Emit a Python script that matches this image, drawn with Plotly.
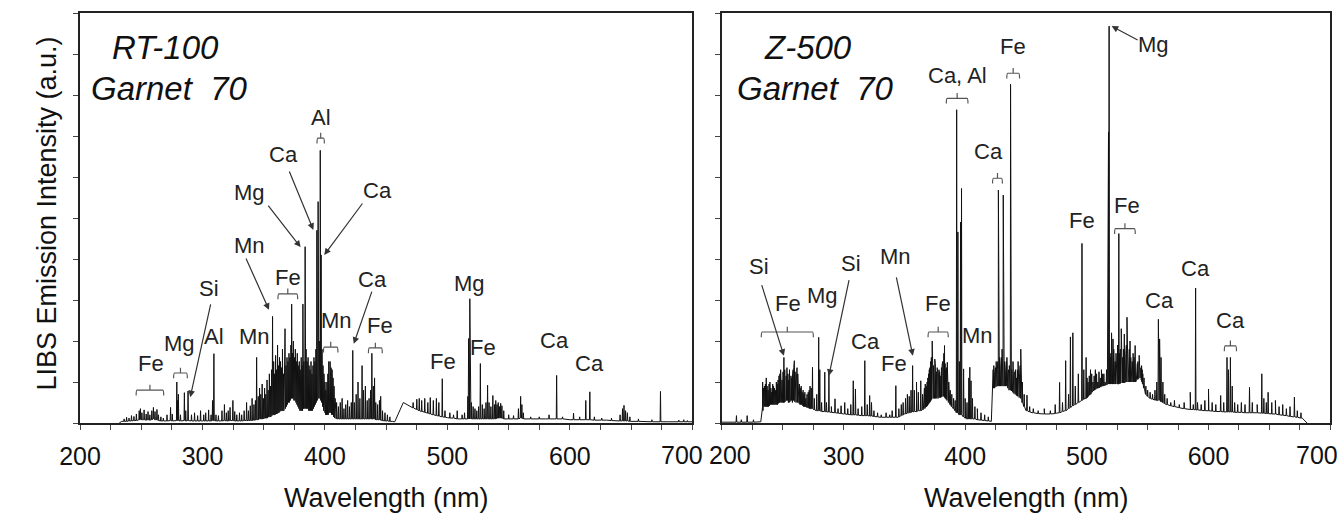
import plotly.graph_objects as go

# ---------------- data ----------------
wavelength_ticks = list(range(200, 701, 25))
wavelength_labels = [str(v) if v % 100 == 0 else "" for v in wavelength_ticks]
intensity_ticks = list(range(0, 11))

# RT-100 spectrum: baseline knots (wavelength nm, intensity a.u.)
rt_baseline = [(232, 0.0), (234, 0.04), (300, 0.05), (340, 0.06), (350, 0.1), (360, 0.22),
               (370, 0.5), (380, 0.3), (390, 0.35), (396, 0.6), (400, 0.25), (410, 0.1),
               (430, 0.1), (447, 0.06), (455, 0.04), (457, 0.03), (464, 0.5), (470, 0.4),
               (480, 0.28), (490, 0.19), (500, 0.13), (510, 0.1), (550, 0.1), (580, 0.1),
               (600, 0.08), (630, 0.07), (650, 0.04), (680, 0.03), (700, 0.03), (705, 0.03)]
# RT-100 emission lines: (wavelength, foot, top)
rt_lines = [
    (236, 0.04, 0.1), (238, 0.04, 0.14), (240, 0.05, 0.12), (242, 0.05, 0.18), (244, 0.06, 0.16),
    (246, 0.06, 0.22), (248.3, 0.08, 0.3), (249.3, 0.08, 0.35), (250.5, 0.08, 0.25), (252.3, 0.08, 0.32),
    (254, 0.07, 0.22), (255.5, 0.08, 0.28), (257, 0.07, 0.2), (258.6, 0.08, 0.3), (259.9, 0.1, 0.38),
    (261.2, 0.08, 0.28), (262.8, 0.08, 0.33), (264, 0.06, 0.2), (266, 0.05, 0.15), (268, 0.05, 0.12),
    (271, 0.05, 0.2), (273.9, 0.06, 0.38), (275.3, 0.05, 0.22),
    (279.0, 0.06, 1.0), (279.6, 0.06, 0.55), (280.3, 0.06, 0.7), (282, 0.05, 0.2), (285.2, 0.06, 0.74),
    (286.3, 0.05, 0.3), (288.2, 0.06, 0.78),
    (291, 0.05, 0.2), (293.5, 0.05, 0.25), (296, 0.05, 0.18), (298.4, 0.05, 0.3), (301, 0.05, 0.2),
    (302.6, 0.05, 0.25), (305, 0.05, 0.32), (307, 0.05, 0.2), (308.2, 0.06, 0.55), (309.3, 0.06, 1.69),
    (311, 0.05, 0.2), (313, 0.05, 0.18), (315.9, 0.05, 0.3), (317.9, 0.06, 0.45), (319.5, 0.05, 0.25),
    (321, 0.05, 0.3), (322.5, 0.06, 0.38), (324.8, 0.06, 0.55), (326.3, 0.05, 0.28), (328, 0.05, 0.2),
    (330.2, 0.05, 0.25), (332, 0.05, 0.2), (334, 0.06, 0.3), (336, 0.06, 0.5), (337.5, 0.06, 0.3),
    (339, 0.06, 0.42), (340.5, 0.06, 0.6), (342, 0.07, 0.45), (343.2, 0.07, 0.55), (344.2, 0.08, 1.6),
    (345.5, 0.08, 0.65), (346.6, 0.1, 0.85), (347.6, 0.1, 0.7), (348.7, 0.1, 0.95), (349.7, 0.1, 0.6),
    (350.7, 0.12, 0.85), (351.7, 0.12, 0.7), (352.7, 0.12, 1.05), (353.6, 0.15, 0.8), (354.6, 0.15, 1.2),
    (355.5, 0.15, 0.9), (356.4, 0.18, 1.3), (357.2, 0.2, 2.6), (358.1, 0.2, 1.5), (358.9, 0.2, 1.2),
    (359.7, 0.25, 1.65), (360.5, 0.22, 1.3), (361.3, 0.25, 1.9), (362.1, 0.25, 1.4), (362.9, 0.28, 1.6),
    (363.7, 0.3, 1.5), (364.5, 0.3, 1.35), (365.3, 0.3, 1.8), (366.1, 0.3, 1.2), (366.9, 0.35, 1.55),
    (367.4, 0.35, 2.3), (368.2, 0.4, 1.4), (369, 0.45, 1.6), (369.8, 0.5, 1.5), (370.6, 0.5, 1.7),
    (371.4, 0.55, 1.6), (372.2, 0.6, 1.9), (372.8, 0.6, 2.9), (373.5, 0.6, 1.7), (374.2, 0.6, 2.0),
    (375, 0.55, 1.6), (375.8, 0.55, 1.8), (376.6, 0.5, 1.5), (377.4, 0.45, 1.7), (378.2, 0.4, 1.4),
    (379, 0.35, 1.5), (379.8, 0.3, 1.3), (380.6, 0.3, 1.6), (381.4, 0.3, 1.4), (382.0, 0.35, 2.9),
    (382.8, 0.35, 1.5), (383.8, 0.4, 4.3), (384.6, 0.35, 1.8), (385.4, 0.35, 1.5), (386.2, 0.35, 1.6),
    (387, 0.3, 1.4), (387.8, 0.3, 1.3), (388.6, 0.3, 1.5), (389.4, 0.3, 1.2), (390.2, 0.35, 1.4),
    (391, 0.4, 1.6), (391.8, 0.45, 1.5), (392.6, 0.5, 1.8), (393.4, 0.55, 4.7), (394.4, 0.6, 5.4),
    (395.3, 0.6, 2.0), (396.15, 0.6, 6.65), (396.85, 0.55, 4.1), (397.6, 0.5, 1.8), (398.4, 0.4, 1.4),
    (399.2, 0.3, 1.2), (400, 0.25, 1.0), (400.8, 0.2, 0.8), (401.6, 0.2, 1.0), (402.4, 0.2, 1.2),
    (403.1, 0.25, 1.5), (403.6, 0.25, 1.45), (404.2, 0.25, 1.5), (405, 0.25, 1.35), (405.8, 0.2, 1.3),
    (406.6, 0.2, 1.1), (407.4, 0.15, 0.9), (408.3, 0.12, 0.6), (409.5, 0.1, 0.5), (411, 0.1, 0.4),
    (412.5, 0.1, 0.5), (414, 0.1, 0.6), (415.5, 0.1, 0.35), (417, 0.1, 0.45), (418.5, 0.1, 0.55),
    (420, 0.1, 0.4), (421.5, 0.1, 0.5), (422.7, 0.1, 1.77), (424, 0.1, 0.5), (425.5, 0.1, 0.7),
    (427, 0.1, 1.0), (428.5, 0.1, 0.6), (430.3, 0.1, 1.4), (431.5, 0.1, 0.8), (433, 0.1, 0.9),
    (434.5, 0.1, 0.55), (436, 0.1, 0.6), (437.3, 0.1, 0.8), (438.3, 0.1, 1.7), (439.5, 0.1, 0.9),
    (440.5, 0.1, 1.1), (441.5, 0.08, 0.5), (443, 0.08, 0.45), (444.5, 0.08, 0.55), (445.5, 0.07, 0.65),
    (447, 0.06, 0.3), (449, 0.05, 0.25), (451, 0.05, 0.2), (453, 0.04, 0.15),
    (472, 0.37, 0.5), (475, 0.33, 0.58), (477, 0.3, 0.6), (479, 0.28, 0.55), (481.5, 0.26, 0.6),
    (484, 0.24, 0.5), (486, 0.22, 0.62), (488.5, 0.2, 0.55), (491, 0.18, 0.6), (493, 0.17, 0.5),
    (495.8, 0.15, 1.08), (498, 0.14, 0.3), (502, 0.12, 0.25), (505, 0.12, 0.2), (508, 0.1, 0.3),
    (512, 0.1, 0.2), (514, 0.1, 0.25), (516.7, 0.1, 0.65), (517.3, 0.1, 2.06), (518.3, 0.1, 3.03),
    (519.5, 0.1, 0.5), (521, 0.1, 0.4), (522.5, 0.1, 0.35), (524, 0.1, 0.3), (525.5, 0.1, 0.4),
    (526.9, 0.1, 1.45), (528.5, 0.1, 0.45), (530, 0.1, 0.35), (531.5, 0.1, 0.5), (532.8, 0.1, 0.92),
    (534, 0.1, 0.5), (535.5, 0.1, 0.4), (537.1, 0.1, 0.67), (538.5, 0.1, 0.45), (539.5, 0.1, 0.55),
    (540.5, 0.12, 0.45), (541.5, 0.12, 0.5), (542.5, 0.12, 0.4), (543.5, 0.12, 0.48), (544.5, 0.12, 0.42),
    (546, 0.1, 0.3), (550, 0.1, 0.2), (554, 0.1, 0.18), (558, 0.1, 0.35), (559.8, 0.12, 0.65),
    (560.8, 0.12, 0.45), (562, 0.1, 0.25), (568, 0.1, 0.15), (575, 0.1, 0.15), (583, 0.1, 0.2),
    (589.2, 0.1, 1.16), (594, 0.1, 0.15), (603, 0.08, 0.24), (608, 0.08, 0.15), (613, 0.08, 0.55),
    (616.3, 0.08, 0.76), (620, 0.07, 0.15), (626, 0.07, 0.12), (634, 0.06, 0.12), (641, 0.05, 0.2),
    (643, 0.05, 0.35), (644.2, 0.05, 0.43), (645.5, 0.05, 0.3), (647, 0.05, 0.25), (649, 0.04, 0.15),
    (656, 0.04, 0.1), (667, 0.03, 0.08), (674, 0.03, 0.77), (689, 0.03, 0.07), (693, 0.03, 0.08),
    (696, 0.03, 0.06),
]

# Z-500 spectrum
z_baseline = [(196, 0.02), (200, 0.02), (232, 0.03), (233.5, 0.4), (240, 0.45), (250, 0.5), (258, 0.5),
              (265, 0.45), (272, 0.38), (280, 0.3), (290, 0.26), (300, 0.22), (316, 0.18), (330, 0.14),
              (345, 0.14), (350, 0.22), (360, 0.28), (368, 0.4), (375, 0.6), (382, 0.65), (388, 0.45),
              (392, 0.3), (400, 0.12), (410, 0.08), (421.5, 0.04), (422.5, 0.9), (427, 0.9), (435, 0.9),
              (440, 0.75), (445, 0.6), (450, 0.3), (455, 0.25), (465, 0.22), (475, 0.24), (482, 0.3),
              (490, 0.45), (498, 0.6), (505, 0.8), (512, 0.9), (520, 0.95), (530, 1.0), (538, 1.0),
              (545, 1.1), (550, 0.7), (558, 0.55), (565, 0.45), (575, 0.38), (585, 0.33), (600, 0.3),
              (620, 0.27), (640, 0.25), (655, 0.22), (670, 0.15), (677, 0.12), (680, 0.03), (681, 0.0)]
z_lines = [
    (212, 0.02, 0.18), (216, 0.02, 0.08), (220.8, 0.02, 0.18), (226, 0.02, 0.08),
    (233.5, 0.3, 1.0), (235, 0.4, 0.9), (236.5, 0.4, 1.1), (238, 0.4, 0.8), (239.5, 0.45, 1.0),
    (241, 0.45, 0.75), (242.5, 0.45, 0.9), (244, 0.45, 0.8), (245.5, 0.45, 0.95), (247, 0.5, 1.15),
    (248.3, 0.5, 1.3), (249.5, 0.5, 1.05), (251, 0.5, 1.6), (252.3, 0.55, 1.2), (253.5, 0.55, 1.35),
    (255, 0.5, 1.05), (256.2, 0.55, 1.25), (257.5, 0.55, 1.1), (258.6, 0.55, 1.3), (259.6, 0.55, 1.52),
    (260.7, 0.5, 1.15), (261.8, 0.5, 1.35), (263, 0.5, 1.0), (264.5, 0.45, 0.85), (266, 0.45, 0.75),
    (267.5, 0.4, 0.7), (269, 0.4, 0.6), (271, 0.38, 0.75), (272.5, 0.35, 0.9), (274.5, 0.35, 1.36),
    (276, 0.32, 0.6), (278, 0.3, 0.7), (279.6, 0.3, 2.09), (280.5, 0.3, 1.3), (282, 0.28, 0.5),
    (284.6, 0.28, 1.24), (286, 0.27, 0.5), (288, 0.27, 1.28), (290, 0.26, 0.4), (293, 0.25, 0.59),
    (295.5, 0.24, 0.35), (298, 0.23, 0.42), (301, 0.22, 0.5), (303.5, 0.21, 0.35), (306, 0.2, 0.45),
    (308, 0.2, 1.03), (309.8, 0.2, 0.83), (312, 0.19, 0.35), (315, 0.18, 0.4), (317.5, 0.18, 1.52),
    (319.5, 0.18, 0.45), (321.5, 0.17, 0.67), (323, 0.17, 0.5), (325, 0.16, 0.3), (328, 0.15, 0.25),
    (331, 0.14, 0.2), (335, 0.14, 0.25), (338, 0.14, 0.2), (340, 0.14, 0.3), (343, 0.14, 0.91),
    (345.5, 0.15, 0.35), (347.5, 0.18, 0.45), (349, 0.2, 0.5), (351, 0.22, 0.6), (352.5, 0.24, 0.7),
    (354, 0.25, 0.65), (355.5, 0.26, 0.8), (356.8, 0.27, 1.4), (358.2, 0.28, 0.8), (360, 0.28, 1.0),
    (361.5, 0.3, 0.75), (363.5, 0.3, 1.03), (365, 0.32, 0.7), (366.5, 0.35, 0.85), (368, 0.4, 0.9),
    (369.3, 0.45, 1.1), (370.5, 0.5, 1.3), (371.6, 0.55, 1.5), (372.9, 0.6, 2.0), (374, 0.6, 1.4),
    (375, 0.6, 1.56), (376, 0.6, 1.2), (377, 0.6, 1.35), (378, 0.62, 1.1), (379, 0.62, 1.25),
    (380, 0.63, 1.15), (381, 0.65, 1.4), (382, 0.65, 1.6), (383, 0.65, 1.89), (384, 0.6, 1.3),
    (385.3, 0.55, 1.48), (386.5, 0.5, 1.0), (387.7, 0.45, 0.8), (389, 0.4, 0.7), (390.5, 0.35, 0.6),
    (391.8, 0.3, 0.55),
    (393.0, 0.25, 7.64), (394.0, 0.25, 4.66), (395.2, 0.2, 1.5), (396.2, 0.2, 4.9), (397.0, 0.2, 5.72),
    (398.7, 0.15, 1.32), (400, 0.12, 0.6), (401.5, 0.1, 0.5), (403.0, 0.1, 1.1), (403.8, 0.1, 1.36),
    (404.8, 0.1, 1.03), (406, 0.1, 0.6), (408, 0.1, 0.4), (410, 0.08, 0.35), (413, 0.07, 0.25),
    (416, 0.06, 0.2), (419, 0.05, 0.15),
    (423.5, 0.85, 1.4), (424.5, 0.85, 1.2), (425.5, 0.9, 1.5), (426.4, 0.9, 1.3), (427.3, 0.9, 5.68),
    (428.3, 0.9, 1.6), (429.3, 0.9, 1.4), (430.3, 0.9, 1.8), (431.3, 0.9, 5.56), (432.3, 0.9, 1.5),
    (433.3, 0.9, 1.3), (434.3, 0.9, 1.6), (435.3, 0.85, 1.2), (436.3, 0.8, 1.4), (437.3, 0.8, 8.26),
    (438.3, 0.78, 1.3), (439.3, 0.75, 1.5), (440.3, 0.72, 1.2), (441.3, 0.7, 1.3), (442.3, 0.68, 1.1),
    (443.5, 0.65, 1.5), (444.7, 0.62, 1.2), (445.7, 0.6, 1.8), (447, 0.5, 1.0), (448.5, 0.4, 0.7),
    (450.8, 0.3, 0.68), (453, 0.27, 0.4), (456, 0.25, 0.35), (460, 0.23, 0.3), (465, 0.22, 0.35),
    (470, 0.22, 0.3), (474, 0.23, 0.45), (477.6, 0.25, 0.99), (480, 0.28, 0.5), (482.6, 0.3, 1.52),
    (485, 0.35, 0.7), (486.5, 0.38, 2.1), (488.5, 0.42, 2.2), (490.5, 0.45, 0.9), (493, 0.5, 1.2),
    (496, 0.55, 4.38), (497.5, 0.58, 1.3), (499.4, 0.6, 1.6), (501, 0.65, 1.0), (503, 0.7, 1.3),
    (505, 0.78, 1.0), (507, 0.82, 1.3), (509, 0.85, 1.0), (511, 0.88, 1.1), (513, 0.9, 1.2),
    (515, 0.92, 1.0), (516.2, 0.93, 1.3), (517.2, 0.95, 5.0), (517.8, 0.95, 7.1), (518.3, 0.95, 9.68),
    (519.2, 0.95, 1.6), (520.3, 0.95, 2.2), (521.5, 0.95, 2.05), (522.7, 0.95, 1.5), (524, 0.95, 1.7),
    (525.3, 0.95, 1.9), (526.3, 0.95, 4.62), (527.5, 0.97, 1.8), (528.3, 0.98, 2.3), (529.5, 0.98, 1.6),
    (530.8, 0.98, 2.17), (532, 1.0, 1.7), (533, 1.0, 2.58), (534.3, 1.0, 1.6), (535.5, 1.0, 2.0),
    (536.7, 1.0, 1.5), (538, 1.0, 1.7), (539.7, 1.0, 1.89), (541, 1.05, 1.4), (542, 1.08, 1.5),
    (543, 1.1, 1.65), (544, 1.1, 1.3), (545, 1.05, 1.4), (546, 0.95, 1.2), (547, 0.85, 1.1),
    (548.5, 0.7, 0.9), (550, 0.65, 0.8), (552, 0.6, 0.75), (554, 0.58, 0.7), (556, 0.56, 0.8),
    (557.5, 0.55, 1.0), (558.8, 0.55, 2.53), (559.8, 0.55, 2.05), (561, 0.52, 1.6), (562.5, 0.5, 1.0),
    (564, 0.47, 0.7), (566, 0.45, 0.6), (569, 0.42, 0.5), (572, 0.4, 0.55), (576, 0.37, 0.45),
    (580, 0.35, 0.5), (585, 0.33, 0.75), (587.5, 0.33, 0.45), (589.4, 0.32, 3.29), (591, 0.32, 0.5),
    (594, 0.31, 0.45), (597, 0.3, 0.55), (600, 0.3, 0.83), (603, 0.29, 0.5), (606, 0.28, 0.45),
    (610, 0.28, 0.67), (612.5, 0.27, 0.5), (615.2, 0.27, 1.6), (616.4, 0.27, 1.3), (618, 0.27, 1.6),
    (619.5, 0.27, 0.9), (621.5, 0.26, 0.5), (624, 0.26, 0.45), (627, 0.26, 0.5), (630, 0.25, 0.45),
    (633.7, 0.25, 0.87), (636, 0.25, 0.5), (640, 0.25, 0.45), (643.8, 0.24, 1.2), (645.5, 0.24, 0.6),
    (647.5, 0.23, 0.5), (649, 0.23, 0.75), (652, 0.22, 0.5), (655, 0.22, 0.55), (658, 0.2, 0.4),
    (661, 0.19, 0.45), (664, 0.18, 0.35), (667, 0.16, 0.4), (670.6, 0.15, 0.63), (673, 0.14, 0.3),
    (676, 0.12, 0.25),
]
# extra weak lines filling the dense clusters of Z-500
z_lines_dense = [
    (234.2, 0.4, 0.85), (235.8, 0.4, 0.95), (237.2, 0.4, 0.9), (238.8, 0.42, 0.95), (240.3, 0.45, 0.85),
    (241.8, 0.45, 0.95), (243.2, 0.45, 0.85), (244.8, 0.45, 1.0), (246.2, 0.48, 1.05), (247.7, 0.5, 1.2),
    (248.9, 0.5, 1.1), (250.3, 0.5, 1.25), (251.7, 0.52, 1.3), (252.9, 0.55, 1.15), (254.3, 0.55, 1.2),
    (255.6, 0.52, 1.3), (256.8, 0.55, 1.15), (258.1, 0.55, 1.2), (259.1, 0.55, 1.35), (260.2, 0.52, 1.25),
    (261.3, 0.5, 1.1), (262.4, 0.5, 1.2), (263.7, 0.48, 0.95), (265.2, 0.45, 0.9), (266.8, 0.42, 0.8),
    (268.2, 0.4, 0.75), (270, 0.38, 0.7), (271.8, 0.36, 0.8), (273.5, 0.35, 0.85),
    (366, 0.35, 0.8), (367.2, 0.38, 0.95), (368.7, 0.42, 1.0), (370, 0.48, 1.2), (371, 0.52, 1.35),
    (372.2, 0.58, 1.6), (373.5, 0.6, 1.5), (374.5, 0.6, 1.3), (375.5, 0.6, 1.45), (376.5, 0.6, 1.25),
    (377.5, 0.6, 1.2), (378.5, 0.62, 1.3), (379.5, 0.62, 1.2), (380.5, 0.64, 1.35), (381.5, 0.65, 1.5),
    (382.5, 0.65, 1.7), (383.5, 0.62, 1.45), (384.6, 0.58, 1.35), (385.9, 0.52, 1.2), (387.1, 0.48, 0.9),
    (423, 0.85, 1.3), (424, 0.85, 1.25), (425, 0.88, 1.35), (426, 0.9, 1.45), (426.9, 0.9, 1.5),
    (427.8, 0.9, 1.4), (428.8, 0.9, 1.5), (429.8, 0.9, 1.6), (430.8, 0.9, 1.5), (431.8, 0.9, 1.45),
    (432.8, 0.9, 1.4), (433.8, 0.9, 1.5), (434.8, 0.88, 1.35), (435.8, 0.82, 1.3), (436.8, 0.8, 1.35),
    (437.8, 0.8, 1.4), (438.8, 0.76, 1.3), (439.8, 0.74, 1.35), (440.8, 0.7, 1.25), (441.8, 0.69, 1.2),
    (442.9, 0.66, 1.3), (444.1, 0.63, 1.3), (445.2, 0.6, 1.4), (446.3, 0.55, 1.1),
    (500.2, 0.62, 1.1), (502, 0.68, 1.15), (504, 0.75, 1.2), (506, 0.8, 1.15), (508, 0.84, 1.2),
    (510, 0.86, 1.25), (512, 0.89, 1.3), (514, 0.91, 1.2), (518.8, 0.95, 1.5), (519.8, 0.95, 1.7),
    (521, 0.95, 1.6), (522.1, 0.95, 1.8), (523.3, 0.95, 1.5), (524.6, 0.95, 1.6), (526.9, 0.96, 1.7),
    (528.9, 0.98, 1.7), (530.1, 0.98, 1.8), (531.4, 0.99, 1.6), (532.5, 1.0, 1.9), (533.6, 1.0, 1.7),
    (534.9, 1.0, 1.8), (536.1, 1.0, 1.6), (537.3, 1.0, 1.5), (538.8, 1.0, 1.6), (540.3, 1.02, 1.5),
    (541.5, 1.06, 1.45), (542.5, 1.09, 1.5), (543.5, 1.1, 1.4), (544.5, 1.08, 1.35), (545.5, 1.0, 1.3),
]

# element labels: (text, wavelength, intensity)
rt_labels = [("Al", 397, 7.44), ("Ca", 366.4, 6.54), ("Mg", 338.3, 5.63), ("Ca", 442.8, 5.68),
             ("Mn", 338.3, 4.34), ("Fe", 369.6, 3.54), ("Si", 305.3, 3.27), ("Mg", 281.2, 1.93),
             ("Al", 309.3, 2.1), ("Mn", 342.3, 2.1), ("Fe", 257.9, 1.46), ("Mn", 409.8, 2.49),
             ("Ca", 438.7, 3.49), ("Fe", 445.2, 2.37), ("Mg", 518.3, 3.41), ("Fe", 496.6, 1.49),
             ("Fe", 528.8, 1.83), ("Ca", 587.5, 2.02), ("Ca", 616.4, 1.46)]
# arrows: (tail wl, tail I, head wl, head I)
rt_arrows = [(370.4, 6.17, 390.5, 4.71), (352.7, 5.34, 380.1, 4.29), (431.5, 5.39, 399.4, 4.1),
             (335.0, 4.05, 354.3, 2.76), (306.9, 2.93, 290.0, 0.63), (438.7, 3.24, 423.5, 1.93)]
# brackets: (wl start, wl end, intensity)
rt_brackets = [(393.5, 399.5, 6.95), (361.6, 377.7, 3.15), (276.4, 287.6, 1.22), (245.8, 268.3, 0.8),
               (398.8, 410.6, 1.85), (435.5, 446.8, 1.83)]

z_labels = [("Mg", 554.9, 9.22), ("Fe", 439.5, 9.19), ("Ca, Al", 393.4, 8.48), ("Ca", 418.8, 6.63),
            ("Fe", 496.1, 4.94), ("Fe", 533.0, 5.31), ("Si", 230.7, 3.81), ("Fe", 254.2, 2.91),
            ("Mg", 282.9, 3.1), ("Si", 306.4, 3.89), ("Mn", 342.4, 4.06), ("Ca", 318.1, 1.98),
            ("Fe", 341.6, 1.44), ("Fe", 378.0, 2.91), ("Mn", 410.4, 2.13), ("Ca", 560.0, 2.98),
            ("Ca", 589.2, 3.77), ("Ca", 618.0, 2.49)]
z_arrows = [(543.0, 9.32, 520.4, 9.68), (232.4, 3.4, 251.0, 1.64), (304.8, 3.52, 288.0, 1.15),
            (343.2, 3.59, 357.0, 1.64)]
z_brackets = [(434.2, 444.7, 8.53), (384.5, 402.3, 7.92), (422.5, 430.6, 5.97), (522.8, 539.8, 4.74),
              (232.4, 275.2, 2.22), (369.5, 386.1, 2.22), (613.0, 623.0, 1.88)]

panel_names = ["RT-100", "Z-500"]
panel_subtitle = "Garnet  70"

# ---------------- figure ----------------
W, H = 1341, 516
FONT = "Liberation Sans, Arial, Helvetica, sans-serif"
TICK_SIZE = 25


def spectrum(baseline, lines, hw=0.3):
    pts = list(baseline)
    for wl, foot, top in lines:
        pts += [(wl - hw, foot), (wl, top), (wl + hw, foot)]
    pts.sort(key=lambda p: p[0])
    return [p[0] for p in pts], [p[1] for p in pts]


fig = go.Figure()
for i, (bl, ln) in enumerate([(rt_baseline, rt_lines), (z_baseline, z_lines + z_lines_dense)]):
    xs, ys = spectrum(bl, ln)
    fig.add_trace(go.Scatter(x=xs, y=ys, mode="lines", line=dict(color="#111111", width=1),
                             xaxis="x" if i == 0 else "x2", yaxis="y" if i == 0 else "y2",
                             hoverinfo="skip", showlegend=False))

ydom = [1 - 423 / H, 1 - 13 / H]
xdoms = [[60 / W, 682 / W], [712 / W, 1330 / W]]

axis_common = dict(showline=True, mirror=True, linecolor="#222222", linewidth=1.6,
                   ticks="outside", ticklen=5, tickwidth=1, tickcolor="#444444",
                   showgrid=False, zeroline=False, fixedrange=True)

layout = dict(width=W, height=H, margin=dict(l=0, r=0, t=0, b=0),
              paper_bgcolor="white", plot_bgcolor="white", showlegend=False,
              font=dict(family=FONT, color="#111111"))
# the labels at the panel edges ("700 200" in the middle, last "700") are drawn as separate texts
left_labels = [t if v != 700 else "" for v, t in zip(wavelength_ticks, wavelength_labels)]
right_labels = [t if v not in (200, 700) else "" for v, t in zip(wavelength_ticks, wavelength_labels)]
for i in range(2):
    sx = "" if i == 0 else "2"
    layout["xaxis" + sx] = dict(domain=xdoms[i], range=[200, 700], tickmode="array",
                                tickvals=wavelength_ticks,
                                ticktext=left_labels if i == 0 else right_labels,
                                tickfont=dict(size=TICK_SIZE, family=FONT, color="#111111"),
                                ticklabelstandoff=5,
                                anchor="y" + sx, **axis_common)
    layout["yaxis" + sx] = dict(domain=ydom, range=[0, 10], tickmode="array",
                                tickvals=intensity_ticks, showticklabels=False,
                                anchor="x" + sx, **axis_common)
fig.update_layout(**layout)

annotations = []
shapes = []
for i, (labels, arrows, brackets) in enumerate([(rt_labels, rt_arrows, rt_brackets),
                                                 (z_labels, z_arrows, z_brackets)]):
    xr = "x" if i == 0 else "x2"
    yr = "y" if i == 0 else "y2"
    for txt, xw, yi in labels:
        annotations.append(dict(text=txt, x=xw, y=yi, xref=xr, yref=yr, showarrow=False,
                                xanchor="center", yanchor="middle",
                                font=dict(size=22, family=FONT, color="#222222")))
    for tx, ty, hx, hy in arrows:
        annotations.append(dict(text="", x=hx, y=hy, ax=tx, ay=ty, xref=xr, yref=yr,
                                axref=xr, ayref=yr, showarrow=True, arrowhead=2,
                                arrowsize=1.1, arrowwidth=1.2, arrowcolor="#333333",
                                standoff=0, startstandoff=0))
    for x0, x1, yb in brackets:
        dy = 0.13
        xm = (x0 + x1) / 2
        path = (f"M {x0},{yb - dy} Q {x0},{yb} {x0 + 0.8},{yb} L {x1 - 0.8},{yb} "
                f"Q {x1},{yb} {x1},{yb - dy} M {xm},{yb} L {xm},{yb + dy}")
        shapes.append(dict(type="path", path=path, xref=xr, yref=yr,
                           line=dict(color="#555555", width=1.2)))

# edge tick labels: "700" (left panel), "200" and "700" (right panel)
for txt, xpx in (("700", 672), ("200", 720), ("700", 1317)):
    annotations.append(dict(text=txt, x=xpx / W, y=1 - 455 / H, xref="paper", yref="paper",
                            showarrow=False, xanchor="center", yanchor="middle",
                            font=dict(size=TICK_SIZE, family=FONT, color="#111111")))

# panel titles (sample name and abrasive)
for i, name in enumerate(panel_names):
    xr = "x" if i == 0 else "x2"
    yr = "y" if i == 0 else "y2"
    xc = 270 if i == 0 else 271
    xg = 273 if i == 0 else 277
    annotations.append(dict(text=f"<i>{name}</i>", x=xc, y=9.15, xref=xr, yref=yr,
                            showarrow=False, xanchor="center", yanchor="middle",
                            font=dict(size=33, family=FONT, color="#111111")))
    annotations.append(dict(text=f"<i>{panel_subtitle}</i>", x=xg, y=8.17, xref=xr,
                            yref=yr, showarrow=False, xanchor="center",
                            yanchor="middle", font=dict(size=33, family=FONT, color="#111111")))

# axis titles
for xc in (371, 1021):
    annotations.append(dict(text="Wavelength (nm)", x=xc / W, y=1 - 498 / H, xref="paper",
                            yref="paper", showarrow=False, xanchor="center", yanchor="middle",
                            font=dict(size=27, family=FONT, color="#111111")))
annotations.append(dict(text="LIBS Emission Intensity (a.u.)", x=26 / W, y=1 - 214 / H,
                        xref="paper", yref="paper", textangle=-90, showarrow=False,
                        xanchor="center", yanchor="middle",
                        font=dict(size=27, family=FONT, color="#111111")))

fig.update_layout(annotations=annotations, shapes=shapes)

fig.write_html("out.html", config={"displayModeBar": False},
               post_script="document.body.style.margin='0';document.body.style.overflow='hidden';")
